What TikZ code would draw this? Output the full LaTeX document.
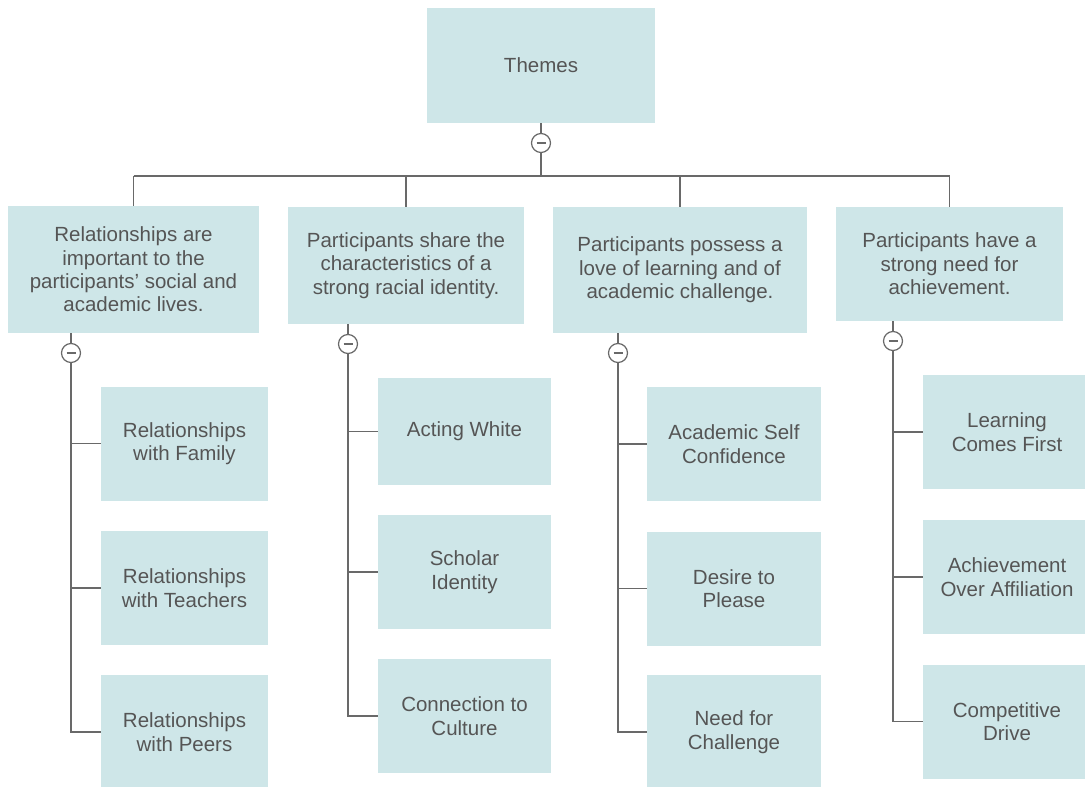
\documentclass[tikz,border=0pt]{standalone}
\usepackage{fontspec}
\setmainfont{Liberation Sans}
\definecolor{cajafondo}{RGB}{206,230,232}
\definecolor{texto}{RGB}{85,85,85}
\definecolor{linea}{RGB}{105,105,105}

\begin{document}
\begin{tikzpicture}[x=1pt, y=-1pt,
  caja/.style={fill=cajafondo, text=texto, align=center, inner sep=0pt,
    font=\fontsize{20.5}{23.4}\selectfont},
  menos/.style={circle, draw=linea, fill=white, line width=1.2pt,
    minimum size=19pt, inner sep=0pt,
    path picture={\draw[linea, line width=2pt]
      ([xshift=-4.5pt]path picture bounding box.center) --
      ([xshift=4.5pt]path picture bounding box.center);}},
  conector/.style={draw=linea, line width=1.3pt}]

  \useasboundingbox (0,0) rectangle (1085,787);

  % Raiz
  \node[caja, minimum width=228pt, minimum height=115pt] (temas) at (541,65.5) {Themes};

  % Temas principales
  \begin{scope}[every node/.style={caja}]
    \node[minimum width=251pt, minimum height=127pt] (relac) at (133.5,269.5)
      {Relationships are\\important to the\\participants’ social and\\academic lives.};
    \node[minimum width=236pt, minimum height=117pt] (identidad) at (406,265.5)
      {Participants share the\\characteristics of a\\strong racial identity.};
    \node[minimum width=254pt, minimum height=126pt] (aprender) at (680,270)
      {Participants possess a\\love of learning and of\\academic challenge.};
    \node[minimum width=227pt, minimum height=114pt] (logro) at (949.5,264)
      {Participants have a\\strong need for\\achievement.};
  \end{scope}

  % Botones de colapsar
  \node[menos] (m0) at (541,143) {};
  \node[menos] (m1) at (71,353) {};
  \node[menos] (m2) at (348,344) {};
  \node[menos] (m3) at (618,353) {};
  \node[menos] (m4) at (893,341) {};

  \coordinate (bus1) at (133.5,176);
  \coordinate (bus2) at (406,176);
  \coordinate (bus3) at (680,176);
  \coordinate (bus4) at (949.5,176);

  \draw[conector] (temas) -- (m0);
  \draw[conector] (m0) -- (m0 |- bus1);
  \draw[conector] (bus1) -- (bus4);
  \foreach \b/\t in {bus1/relac, bus2/identidad, bus3/aprender, bus4/logro}
    \draw[conector] (\b) -- (\t);

  \draw[conector] (m1 |- relac.south) -- (m1);
  \draw[conector] (m2 |- identidad.south) -- (m2);
  \draw[conector] (m3 |- aprender.south) -- (m3);
  \draw[conector] (m4 |- logro.south) -- (m4);

  % Primer grupo
  \begin{scope}[every node/.style={caja, minimum width=167pt, minimum height=114pt}]
    \node (familia) at (184.5,443.5) {Relationships\\with Family};
    \node (maestros) at (184.5,588) {Relationships\\with Teachers};
    \node (pares) at (184.5,732) {Relationships\\with Peers};
  \end{scope}

  \draw[conector] (m1) |- (pares);
  \foreach \h in {familia, maestros}
    \draw[conector] (m1 |- \h) -- (\h);

  % Segundo grupo
  \begin{scope}[every node/.style={caja, minimum width=173pt, minimum height=114pt}]
    \node[minimum height=107pt] (blanco) at (464.5,431.5) {Acting White};
    \node (erudito) at (464.5,572) {Scholar\\Identity};
    \node (cultura) at (464.5,716) {Connection to\\Culture};
  \end{scope}

  \draw[conector] (m2) |- (cultura);
  \foreach \h in {blanco, erudito}
    \draw[conector] (m2 |- \h) -- (\h);

  % Tercer grupo
  \begin{scope}[every node/.style={caja, minimum width=174pt, minimum height=114pt}]
    \node (confianza) at (734,444) {Academic Self\\Confidence};
    \node (agradar) at (734,588.5) {Desire to\\Please};
    \node (reto) at (734,732) {Need for\\Challenge};
  \end{scope}

  \draw[conector] (m3) |- (reto);
  \foreach \h in {confianza, agradar}
    \draw[conector] (m3 |- \h) -- (\h);

  % Cuarto grupo
  \begin{scope}[every node/.style={caja, minimum width=168pt, minimum height=114pt}]
    \node (primero) at (1007,432) {Learning\\Comes First};
    \node (afiliacion) at (1007,577) {Achievement\\Over Affiliation};
    \node (competir) at (1007,721.5) {Competitive\\Drive};
  \end{scope}

  \draw[conector] (m4) |- (competir);
  \foreach \h in {primero, afiliacion}
    \draw[conector] (m4 |- \h) -- (\h);

\end{tikzpicture}
\end{document}
